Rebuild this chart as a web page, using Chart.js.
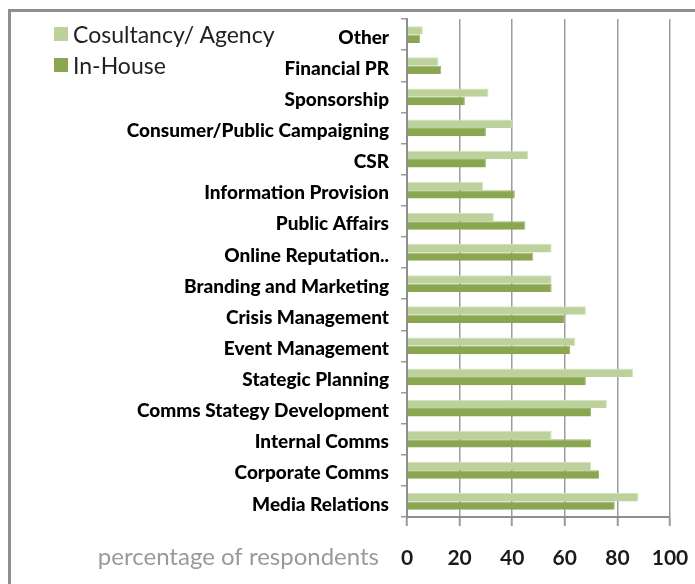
<!DOCTYPE html>
<html>
<head>
<meta charset="utf-8">
<script src="https://cdn.jsdelivr.net/npm/chart.js@4/dist/chart.umd.min.js"></script>
<style>
  html, body { margin: 0; padding: 0; background: #fff; }
  #wrap { position: relative; width: 695px; height: 584px; overflow: hidden; background: #fff; }
  #c { position: absolute; left: 0; top: 0; }
  #frame { position: absolute; left: 8px; top: 9px; width: 800px; height: 700px;
           border: 3px solid #8e8e8e; box-sizing: border-box; pointer-events: none; }
  #legend { position: absolute; left: 54px; top: 18px; font-family: Lato, "Open Sans", sans-serif;
            font-size: 23px; color: #222; }
  .item { display: flex; align-items: center; height: 31px; }
  .sw { width: 14px; height: 14px; margin-right: 5px; }
</style>
</head>
<body>
<div id="wrap">
  <canvas id="c" width="695" height="584"></canvas>
  <div id="frame"></div>
  <div id="legend"></div>
</div>
<script>
const categories = [
  "Other", "Financial PR", "Sponsorship", "Consumer/Public Campaigning", "CSR",
  "Information Provision", "Public Affairs", "Online Reputation..", "Branding and Marketing",
  "Crisis Management", "Event Management", "Stategic Planning", "Comms Stategy Development",
  "Internal Comms", "Corporate Comms", "Media Relations"
];
const consultancyValues = [6, 12, 31, 40, 46, 29, 33, 55, 55, 68, 64, 86, 76, 55, 70, 88];
const inHouseValues     = [5, 13, 22, 30, 30, 41, 45, 48, 55, 60, 62, 68, 70, 70, 73, 79];
const seriesNames = ["Cosultancy/ Agency", "In-House"];
const xTicks = [0, 20, 40, 60, 80, 100];
const axisTitle = "percentage of respondents";

const lightGreen = "#bcd19b";
const darkGreen = "#8aa650";

const axisTitlePlugin = {
  id: 'axisTitleLeft',
  afterDraw(chart) {
    const ctx = chart.ctx;
    const xs = chart.scales.x;
    ctx.save();
    ctx.font = '24px Lato, "Open Sans", sans-serif';
    ctx.fillStyle = '#9a9a9a';
    ctx.textAlign = 'right';
    ctx.textBaseline = 'middle';
    ctx.fillText(axisTitle, xs.left - 28, 557);
    ctx.restore();
  }
};

const chart = new Chart(document.getElementById('c'), {
  type: 'bar',
  data: {
    labels: categories,
    datasets: [
      { label: seriesNames[0], data: consultancyValues, backgroundColor: lightGreen,
        borderColor: "#d3e2bd", borderWidth: {top: 1, right: 1, bottom: 0, left: 0}, borderSkipped: 'start' },
      { label: seriesNames[1], data: inHouseValues, backgroundColor: darkGreen,
        borderColor: "#9db868", borderWidth: {top: 1, right: 1, bottom: 0, left: 0}, borderSkipped: 'start' }
    ]
  },
  options: {
    indexAxis: 'y',
    responsive: false,
    animation: false,
    devicePixelRatio: 1,
    categoryPercentage: 0.54,
    barPercentage: 1.0,
    layout: { padding: { left: 0, right: 25, top: 19, bottom: 0 } },
    plugins: { legend: { display: false }, tooltip: { enabled: false } },
    scales: {
      x: {
        min: 0, max: 100,
        afterBuildTicks(scale) { scale.ticks = xTicks.map(v => ({ value: v })); },
        afterFit(scale) { scale.height = 67; scale.paddingLeft = 0; scale.paddingRight = 0; },
        grid: { color: '#9c9c9c', lineWidth: 1.5, tickLength: 9, tickColor: '#9a9a9a', tickWidth: 2 },
        border: { color: '#8e8e8e', width: 2 },
        ticks: { padding: 20, color: '#1a1a1a', font: { family: 'Lato, "Open Sans", sans-serif', size: 21, weight: 'bold' } }
      },
      y: {
        afterFit(scale) { scale.width = 407; scale.paddingTop = 0; scale.paddingBottom = 0; },
        grid: { offset: true, drawOnChartArea: false, tickLength: 6, color: '#9a9a9a', lineWidth: 1.5 },
        border: { color: '#8e8e8e', width: 2 },
        ticks: { padding: 12, color: '#000', autoSkip: false, labelOffset: 3,
                 font: { family: 'Lato, "Open Sans", sans-serif', size: 19, weight: '900' } }
      }
    }
  },
  plugins: [axisTitlePlugin]
});

const legendEl = document.getElementById('legend');
chart.data.datasets.forEach(ds => {
  const row = document.createElement('div');
  row.className = 'item';
  const sw = document.createElement('span');
  sw.className = 'sw';
  sw.style.background = ds.backgroundColor;
  const tx = document.createElement('span');
  tx.textContent = ds.label;
  row.appendChild(sw); row.appendChild(tx);
  legendEl.appendChild(row);
});
</script>
</body>
</html>
